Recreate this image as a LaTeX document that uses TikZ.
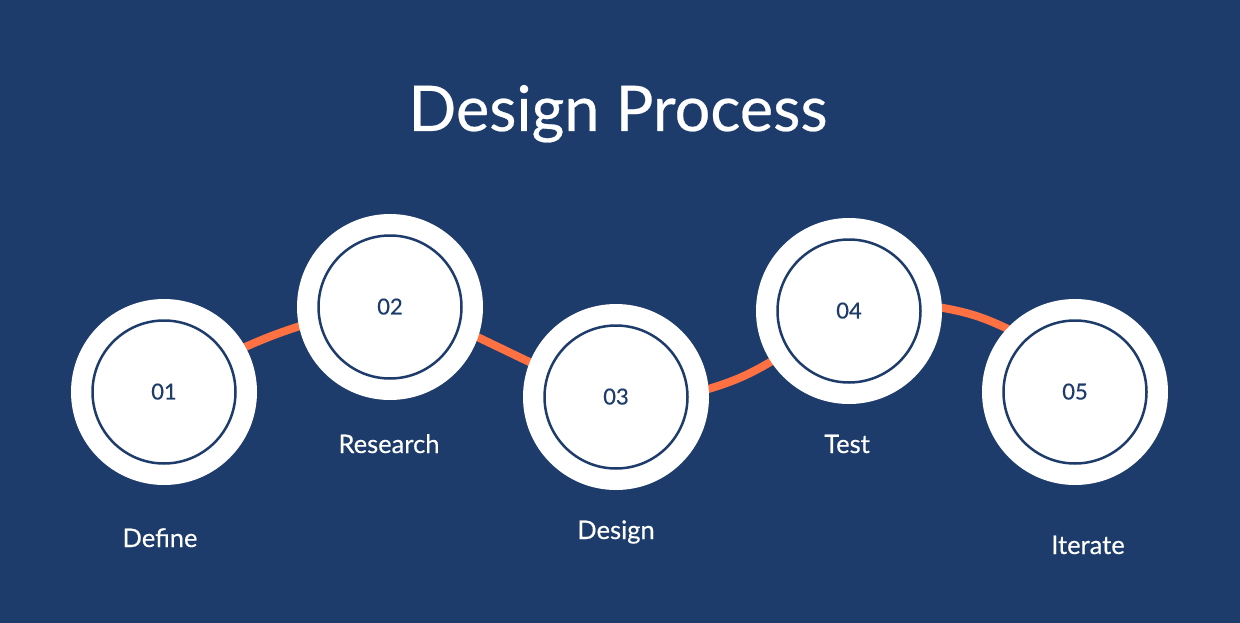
\documentclass[tikz,border=0pt]{standalone}
\usepackage{fontspec}
\setmainfont{Lato}
\newfontfamily\labelfont{Lato}[FakeBold=0.4]
\definecolor{bgblue}{HTML}{1D3C6B}
\definecolor{orangeline}{HTML}{FF7043}
\pgfdeclarelayer{bglayer}
\pgfdeclarelayer{connlayer}
\pgfsetlayers{bglayer,connlayer,main}
\tikzset{
  outerdisc/.style={circle, fill=white, minimum size=186pt, inner sep=0pt},
  innerdisc/.style={circle, fill=white, draw=bgblue, line width=2.5pt, minimum size=143pt, inner sep=0pt,
    text=bgblue, font=\labelfont\fontsize{22}{24}\selectfont},
  conn/.style={draw=orangeline, line width=8pt, shorten <=-5pt, shorten >=-5pt},
  steplabel/.style={text=white, anchor=base, inner sep=0pt, font=\labelfont\fontsize{25.5}{30}\selectfont},
}
\begin{document}
\begin{tikzpicture}[x=1pt,y=-1pt]
\begin{pgfonlayer}{bglayer}
\fill[bgblue] (0,0) rectangle (1240,623);
\end{pgfonlayer}
\useasboundingbox (0,0) rectangle (1240,623);

\node[text=white, anchor=base, inner sep=0pt, font=\labelfont\fontsize{63}{70}\selectfont] (title) at (618,131) {Design Process};

\node[outerdisc] (c1) at (164,392) {};
\node[outerdisc] (c2) at (390,307) {};
\node[outerdisc] (c3) at (616,397) {};
\node[outerdisc] (c4) at (849,311) {};
\node[outerdisc] (c5) at (1075,392) {};

\node[innerdisc] (n1) at (c1) {\raisebox{1pt}{01}};
\node[innerdisc] (n2) at (c2) {\raisebox{1pt}{02}};
\node[innerdisc] (n3) at (c3) {\raisebox{1pt}{03}};
\node[innerdisc] (n4) at (c4) {\raisebox{1pt}{04}};
\node[innerdisc] (n5) at (c5) {\raisebox{1pt}{05}};

\begin{pgfonlayer}{connlayer}
\draw[conn] (c1.29) to[bend left=3] (c2.192);
\draw[conn] (c2.-19) to (c3.158);
\draw[conn] (c3.5) to[bend right=7] (c4.213);
\draw[conn] (c4.2) to[bend left=8] (c5.137);
\end{pgfonlayer}

\node[steplabel] (l1) at (160,547) {Define};
\node[steplabel] (l2) at (389,453) {Research};
\node[steplabel] (l3) at (616,539) {Design};
\node[steplabel] (l4) at (847,453) {Test};
\node[steplabel] (l5) at (1088,554) {Iterate};
\end{tikzpicture}
\end{document}
